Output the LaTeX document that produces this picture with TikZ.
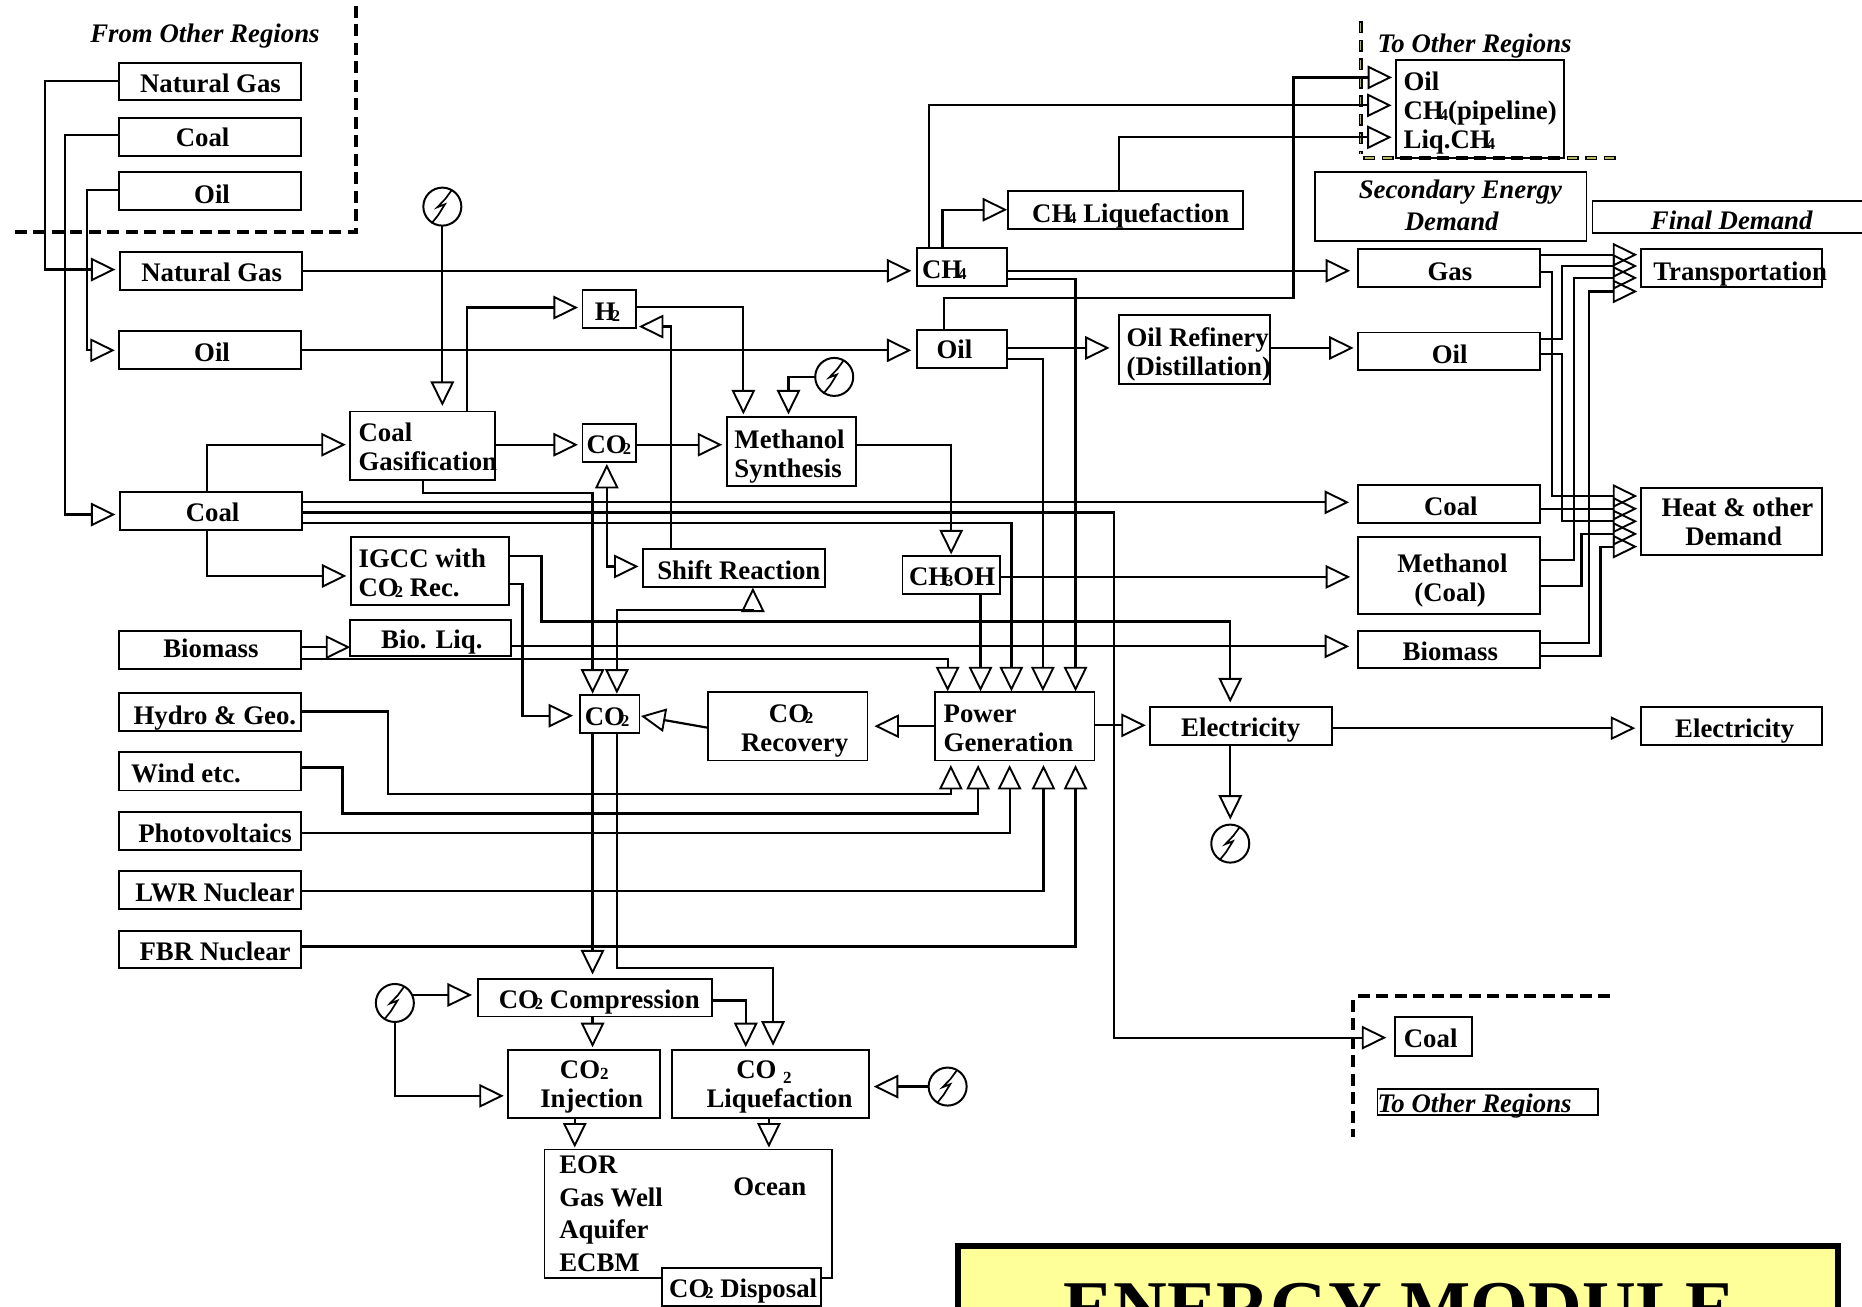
\documentclass[tikz,border=0pt]{standalone}
\usepackage{fontspec}
\setmainfont{Liberation Serif}
\usetikzlibrary{arrows.meta,fit}
\definecolor{ttl}{HTML}{FFFF99}
\definecolor{oliv}{HTML}{B8B860}
\newcommand\sbs[1]{\kern-4pt\raisebox{-1pt}{\fontsize{16.5}{16.5}\selectfont #1}}
\newcommand\st{\rule[-6pt]{0pt}{19pt}}
\newcommand\lb{\\\st}
\tikzset{
 >={Triangle[open,length=24.5pt,width=23.5pt,line width=1.9pt]},
 conn/.style={line width=2.2pt,->,shorten >=4.5pt},
 gap/.style={shorten >=#1pt},
 bx/.style={draw=black,line width=1.9pt,inner sep=0pt,outer sep=0pt,rectangle},
 tx/.style={inner sep=0pt,outer sep=0pt,font=\fontsize{26.8}{29}\selectfont\bfseries},
 ti/.style={inner sep=0pt,outer sep=0pt,font=\fontsize{26.8}{29}\selectfont\bfseries\itshape},
 elecn/.style={circle,draw=black,line width=2pt,inner sep=0pt,outer sep=0pt,minimum size=38pt},
 bolt/.style={line width=1.7pt,line join=miter},
 dsh/.style={line width=4pt,dash pattern=on 12pt off 6.5pt},
}
\newcommand\tb[8]{\node[bx,fit={(#2,#3)(#4,#5)}] (#1) {};\node[tx,anchor=base west] (#1t) at (#6,#7) {#8};}
\newcommand\tm[8]{\node[bx,fit={(#2,#3)(#4,#5)}] (#1) {};\node[tx,anchor=west,align=left] (#1t) at (#6,#7) {\st #8};}
\newcommand\elec[3]{\node[elecn] (#1) at (#2,#3) {};
 \draw[bolt] ([shift={(8,-14)}]#1.center) -- ([shift={(2.5,-6.5)}]#1.center) -- ([shift={(-4.2,0.5)}]#1.center) -- ([shift={(2.2,-2)}]#1.center) -- ([shift={(-3.4,7)}]#1.center) -- ([shift={(-9,14)}]#1.center);}
\begin{document}
\begin{tikzpicture}[x=1.1875pt,y=-1.1875pt]
\useasboundingbox (0,0) rectangle (1568,1100);
\fill[white] (0,0) rectangle (1568,1100);
\clip (0,0) rectangle (1568,1100);

% dashed borders
\draw[dsh] (300,5) -- (300,195) -- (10,195);
\draw[dsh] (1145.7,18) -- (1145.7,129.5);
\draw[dsh] (1148,133) -- (1363,133);
\draw[dsh,oliv,line width=1.4pt,dash pattern=on 9pt off 9.5pt,dash phase=-1.5pt] (1145.7,18) -- (1145.7,129.5);
\draw[dsh,oliv,line width=1.4pt,dash pattern=on 9pt off 9.5pt,dash phase=-1.5pt] (1148,133) -- (1363,133);
\draw[dsh] (1356,839) -- (1141.7,839);
\draw[dsh] (1139,842) -- (1139,957.6);

% regional labels
\node[ti,anchor=base west] (fromlab) at (76,35.5) {From Other Regions};
\node[ti,anchor=base west] (tolab) at (1160,44) {To Other Regions};

% left column
\tb{rNG}{100.5}{53}{253.5}{84.5}{118}{78}{Natural Gas}
\tb{rCoal}{100.5}{99}{253.5}{131}{148}{123.4}{Coal}
\tb{rOil}{100.5}{145}{253.5}{176.6}{163.5}{171}{Oil}
\tb{pNG}{101}{212}{254.5}{244}{119}{237}{Natural Gas}
\tb{pOil}{100.5}{279}{253.5}{310.6}{163.5}{304}{Oil}
\tb{pCoal}{101}{414}{254.5}{446}{156.5}{439}{Coal}
\tb{pBio}{100.5}{531}{253.5}{563}{137.5}{554}{Biomass}
\tb{hydro}{100.5}{583.3}{253.5}{615.4}{112.5}{610}{Hydro \& Geo.}
\tb{wind}{100.5}{633.4}{253.5}{665.7}{110.5}{659}{Wind etc.}
\tb{pv}{100.5}{683.7}{253.5}{715.4}{116.5}{709.4}{Photovoltaics}
\tb{lwr}{100.5}{733.7}{253.5}{765.5}{114}{759.4}{LWR Nuclear}
\tb{fbr}{100.5}{783.8}{253.5}{815.5}{117.5}{809}{FBR Nuclear}

% conversion
\tb{h2}{490.5}{244}{535.5}{276}{501}{269.5}{H\sbs{2}}
\tm{gas}{295}{346.5}{416.5}{404}{302}{378.7}{Coal\lb Gasification}
\tb{co2u}{490.5}{357}{535.5}{389}{494}{382.3}{CO\sbs{2}}
\tm{meth}{612}{351.5}{720.5}{409}{618.5}{384.3}{Methanol\lb Synthesis}
\tm{igcc}{295.5}{452}{429}{509.6}{302}{484.7}{IGCC with\lb CO\sbs{2} Rec.}
\tb{shift}{541.5}{462.4}{694.5}{494}{553.5}{488}{Shift Reaction}
\tb{bioliq}{295}{522}{430.5}{552.5}{321}{546}{Bio. Liq.}
\tb{choh}{760}{468.5}{842}{500}{765.5}{493}{CH\sbs{3}OH}
\tb{ch4}{772.5}{209}{847.7}{241}{776.5}{234.8}{CH\sbs{4}}
\tb{mOil}{772.5}{278}{847.7}{309.6}{788.7}{302}{Oil}
\tb{liq}{849}{161}{1046.7}{193}{869.2}{187.2}{CH\sbs{4} Liquefaction}
\tm{ref}{942}{265.6}{1069.7}{323.4}{948.7}{298.7}{Oil Refinery\lb (Distillation)}
\tb{co2m}{488.5}{585}{538.5}{617}{492.5}{611}{CO\sbs{2}}
\tm{rec}{596.5}{583}{730.5}{640.4}{624}{615.7}{\hspace*{27.9pt}CO\sbs{2}\lb Recovery}
\tm{power}{787.7}{583}{921.7}{640.4}{794.7}{615.7}{Power\lb Generation}
\tb{elecb}{968.7}{595.3}{1121.7}{627.3}{994.7}{620}{Electricity}

% top right
\tm{oreg}{1175.7}{50.4}{1317}{133}{1182}{95.5}{Oil\lb CH\sbs{4}(pipeline)\lb Liq.CH\sbs{4}}
\node[bx,fit={(1107.7,144.7)(1336,202.8)}] (sec) {};
\node[ti,anchor=west,align=left] (sect) at (1144.2,175.2) {\st Secondary Energy\\[2.6pt]\st\hspace*{46pt}Demand};
\node[bx,fit={(1341,169)(1580,196)}] (fin) {};
\node[ti,anchor=base west] (fint) at (1390.2,193) {Final Demand};

% secondary energy
\tb{sGas}{1143.7}{210}{1296.7}{242}{1202.2}{235.8}{Gas}
\tb{sOil}{1143.7}{280}{1296.7}{311.7}{1205.7}{305.7}{Oil}
\tb{sCoal}{1143.7}{408.5}{1296.7}{440.4}{1199.2}{434.4}{Coal}
\tm{sMeth}{1143.7}{452.5}{1296.7}{516.7}{1176.7}{489}{Methanol\lb\hspace*{17pt}(Coal)}
\tb{sBio}{1143.7}{531}{1296.7}{562.5}{1181.2}{556}{Biomass}

% final demand
\tb{trans}{1381.7}{209.6}{1534.2}{241.5}{1392.2}{236}{Transportation}
\tm{heat}{1381.7}{411}{1534.2}{467.4}{1399.2}{442.2}{Heat \& other\lb\hspace*{23.7pt}Demand}
\tb{felec}{1381.7}{595.3}{1534.2}{627.3}{1410.7}{621.3}{Electricity}

% CO2 chain
\tb{comp}{402.5}{824.4}{599.5}{856}{420}{849.5}{CO\sbs{2} Compression}
\tm{inj}{428}{884.4}{555.5}{941.7}{455}{915.8}{\hspace*{19.6pt}CO\raisebox{-1pt}{\fontsize{17}{17}\selectfont 2}\lb Injection}
\tm{lqf}{566}{884.4}{732}{941.7}{595}{915.8}{\hspace*{29.7pt}CO \raisebox{-5pt}{\fontsize{17}{17}\selectfont 2}\lb Liquefaction}
\node[bx,fit={(458.5,968)(700.5,1076)}] (disp) {};
\node[tx,anchor=west,align=left] (dispt) at (471,1024.5) {\st EOR\\[3.5pt]\st Gas Well\\[3.5pt]\st Aquifer\\[3.5pt]\st ECBM};
\node[tx,anchor=base west] (ocean) at (617.5,1007) {Ocean};
\node[bx,fill=white,fit={(557.5,1067.5)(691.5,1099.5)}] (dispb) {};
\node[tx,anchor=base west] (dispbt) at (563.5,1092.5) {CO\sbs{2} Disposal};

% bottom right
\tb{oCoal}{1175}{856.6}{1239.7}{889}{1182.2}{882}{Coal}
\node[bx,fit={(1160,917)(1346,939)}] (to2) {};
\node[ti,anchor=base west] (to2t) at (1160,936.5) {To Other Regions};

% electricity symbols
\elec{e1}{372.5}{174}
\elec{e2}{702.5}{317.4}
\elec{e3}{1036}{710.4}
\elec{e4}{332.5}{844.6}
\elec{e5}{798}{915}

% connectors: imports
\draw[conn] (rNG.west|-0,68.5) -- (38,68.5) -- (38,227) -- (pNG.west|-0,227);
\draw[conn] (rCoal.west|-0,114) -- (55,114) -- (55,433.3) -- (pCoal.west|-0,433.3);
\draw[conn] (rOil.west|-0,160) -- (73,160) -- (73,295) -- (pOil.west|-0,295);
\draw[conn,gap=6] (pNG.east|-0,228) -- (ch4.west|-0,228);
\draw[conn,gap=6] (pOil.east|-0,295) -- (mOil.west|-0,295);
% gasification area
\draw[conn,gap=5.5] (e1.south) -- (e1.south|-gas.north);
\draw[conn] (393,0|-gas.north) -- (393,259) -- (h2.west|-0,259);
\draw[conn,gap=3] (h2.east|-0,258.5) -- (626,258.5) -- (626,0|-meth.north);
\draw[conn,gap=3] (e2.west) -- (664,317.4) -- (664,0|-meth.north);
\draw[conn,gap=3] (565,0|-shift.north) -- (565,275) -- (h2.east|-0,275);
\draw[conn] (gas.east|-0,374.5) -- (co2u.west|-0,374.5);
\draw[conn] (co2u.east|-0,374.5) -- (meth.west|-0,374.5);
\draw[conn,gap=2] (meth.east|-0,374.5) -- (801,374.5) -- (801,0|-choh.north);
\draw[conn] (174,0|-pCoal.north) -- (174,374.5) -- (gas.west|-0,374.5);
\draw[conn] (174,0|-pCoal.south) -- (174,485) -- (igcc.west|-0,485);
\draw[conn,<->,shorten <=2pt] (511,0|-co2u.south) -- (511,477) -- (shift.west|-0,477);
\draw[conn,gap=1] (356,0|-gas.south) -- (356,415) -- (499,415) -- (499,0|-co2m.north);
\draw[conn,<->,shorten <=1pt,gap=1] (634,0|-shift.south) -- (634,514) -- (519.5,514) -- (519.5,0|-co2m.north);
\draw[conn] (igcc.east|-0,468.4) -- (456,468.4) -- (456,523.4) -- (1036,523.4) -- (1036,0|-elecb.north);
\draw[conn,gap=7] (igcc.east|-0,491.8) -- (440,491.8) -- (440,602.7) -- (co2m.west|-0,602.7);
\draw[conn,gap=0] (pBio.east|-0,545) -- (bioliq.west|-0,545);
\draw[conn,gap=1] (pBio.east|-0,555) -- (798,555) -- (798,0|-power.north);
\draw[conn,gap=9] (bioliq.east|-0,544.3) -- (sBio.west|-0,544.3);
% coal lines
\draw[conn,gap=9] (pCoal.east|-0,423) -- (sCoal.west|-0,423);
\draw[conn,gap=9] (pCoal.east|-0,431.6) -- (938,431.6) -- (938,873.8) -- (oCoal.west|-0,873.8);
\draw[conn,gap=1] (pCoal.east|-0,440.4) -- (851.7,440.4) -- (851.7,0|-power.north);
% methanol and hydrocarbons
\draw[conn,gap=8] (choh.east|-0,485.8) -- (sMeth.west|-0,485.8);
\draw[conn,gap=1] (825.7,0|-choh.south) -- (825.7,0|-power.north);
\draw[conn,gap=1] (ch4.east|-0,234.8) -- (905.7,234.8) -- (905.7,0|-power.north);
\draw[conn,gap=1] (mOil.east|-0,302) -- (878.2,302) -- (878.2,0|-power.north);
\draw[conn,gap=9] (mOil.east|-0,293) -- (ref.west|-0,293);
\draw[conn] (ref.east|-0,293) -- (sOil.west|-0,293);
\draw[conn,gap=8] (ch4.east|-0,228) -- (sGas.west|-0,228);
\draw[conn,gap=1] (793.7,0|-ch4.north) -- (793.7,176.6) -- (liq.west|-0,176.6);
\draw[conn] (942.2,0|-liq.north) -- (942.2,115.6) -- (oreg.west|-0,115.6);
\draw[conn] (782,0|-ch4.north) -- (782,88.7) -- (oreg.west|-0,88.7);
\draw[conn,gap=4] (794.7,0|-mOil.north) -- (794.7,251) -- (1089.2,251) -- (1089.2,65.2) -- (oreg.west|-0,65.2);
% to transportation
\draw[conn,gap=3.5] (sGas.east|-0,214.5) -- (trans.west|-0,214.5);
\draw[conn,gap=3.5] (sOil.east|-0,285.8) -- (1315.2,285.8) -- (1315.2,224) -- (trans.west|-0,224);
\draw[conn,gap=3.5] (sMeth.east|-0,471.6) -- (1325.2,471.6) -- (1325.2,234) -- (trans.west|-0,234);
\draw[conn,gap=3.5] (sBio.east|-0,541.8) -- (1338.2,541.8) -- (1338.2,245.4) -- (trans.west|-0,245.4);
% to heat
\draw[conn,gap=3.5] (sGas.east|-0,229) -- (1306.7,229) -- (1306.7,417.7) -- (heat.west|-0,417.7);
\draw[conn,gap=3.5] (sOil.east|-0,297.9) -- (1315.2,297.9) -- (1315.2,439) -- (heat.west|-0,439);
\draw[conn,gap=3.5] (sCoal.east|-0,428.4) -- (heat.west|-0,428.4);
\draw[conn,gap=3.5] (sMeth.east|-0,493.6) -- (1331.7,493.6) -- (1331.7,449.6) -- (heat.west|-0,449.6);
\draw[conn,gap=3.5] (sBio.east|-0,552.5) -- (1347.7,552.5) -- (1347.7,460.3) -- (heat.west|-0,460.3);
% power
\draw[conn,gap=7] (power.west|-0,611.5) -- (rec.east|-0,611.5);
\draw[conn,gap=1.5] (rec.west|-0,612.9) -- (co2m.east|-0,602.7);
\draw[conn] (power.east|-0,610.8) -- (elecb.west|-0,610.8);
\draw[conn,gap=5.5] (elecb.east|-0,613.2) -- (felec.west|-0,613.2);
\draw[conn,gap=5] (1036,0|-elecb.south) -- (e3.north);
\draw[conn] (hydro.east|-0,599.2) -- (327,599.2) -- (327,668.5) -- (800.7,668.5) -- (800.7,0|-power.south);
\draw[conn] (wind.east|-0,646.3) -- (288.5,646.3) -- (288.5,685) -- (823.7,685) -- (823.7,0|-power.south);
\draw[conn] (pv.east|-0,701.3) -- (850.2,701.3) -- (850.2,0|-power.south);
\draw[conn] (lwr.east|-0,750) -- (878.7,750) -- (878.7,0|-power.south);
\draw[conn] (fbr.east|-0,797) -- (905.7,797) -- (905.7,0|-power.south);
% CO2 chain
\draw[conn] (499,0|-co2m.south) -- (499,0|-comp.north);
\draw[conn] (519.5,0|-co2m.south) -- (519.5,815) -- (651,815) -- (651,0|-lqf.north);
\draw[conn,gap=6] (e4.25) -- (comp.west|-e4.25);
\draw[conn] (e4.south) -- (332.5,922.8) -- (inj.west|-0,922.8);
\draw[conn,gap=3] (499,0|-comp.south) -- (499,0|-inj.north);
\draw[conn,gap=3] (comp.east|-0,842.5) -- (628,842.5) -- (628,0|-lqf.north);
\draw[conn] (e5.west) -- (lqf.east|-e5.west);
\draw[conn,gap=2] (484,0|-inj.south) -- (484,0|-disp.north);
\draw[conn,gap=2] (647.5,0|-lqf.south) -- (647.5,0|-disp.north);

% title panel
\node[bx,fill=ttl,line width=6pt,fit={(806.7,1049)(1548,1200)}] (title) {};
\node[inner sep=0pt,outer sep=0pt,anchor=base west,font=\fontsize{74.4}{80}\selectfont\bfseries] (titlet) at (895.7,1122.4) {ENERGY MODULE};
\end{tikzpicture}
\end{document}
